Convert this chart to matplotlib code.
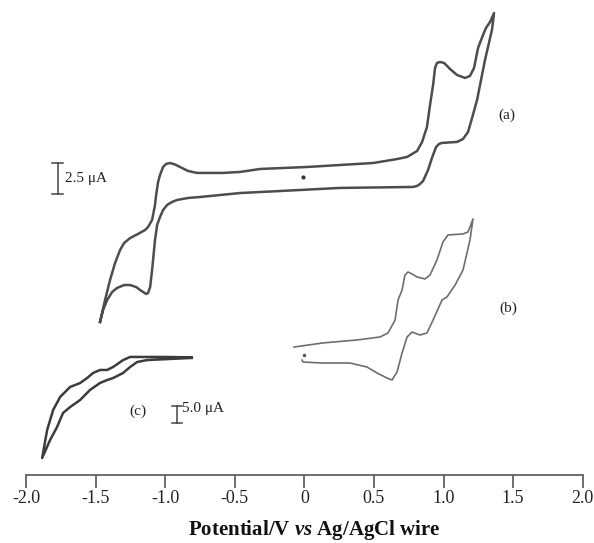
import matplotlib
matplotlib.use("Agg")
import matplotlib.pyplot as plt

plt.rcParams['font.family'] = ['Liberation Serif', 'DejaVu Serif']
plt.rcParams['mathtext.fontset'] = 'custom'
plt.rcParams['mathtext.it'] = 'Liberation Serif:italic:bold'
plt.rcParams['mathtext.rm'] = 'Liberation Serif:bold'

# curve (a): potential (V) and current (uA, offset), closed loop from the left tip
a_v = [-1.468, -1.446, -1.417, -1.381, -1.346, -1.295, -1.252, -1.209, -1.180, -1.137,
       -1.123, -1.108, -1.094, -1.073, -1.058, -1.037, -1.015, -0.986, -0.950, -0.915,
       -0.836, -0.749, -0.462, -0.318, 0.256, 0.781, 0.810, 0.831, 0.853, 0.889,
       0.917, 0.946, 0.968, 0.989, 1.097, 1.140, 1.176, 1.205, 1.241, 1.298,
       1.348, 1.363,
       1.334, 1.305, 1.284, 1.248, 1.219, 1.190, 1.154, 1.097, 1.047, 1.004,
       0.975, 0.953, 0.939, 0.925, 0.903, 0.881, 0.846, 0.810, 0.738, 0.666,
       0.494, 0.256, 0.019, -0.318, -0.462, -0.584, -0.771, -0.836, -0.893, -0.929,
       -0.965, -0.994, -1.015, -1.037, -1.051, -1.065, -1.073, -1.094, -1.123, -1.144,
       -1.195, -1.252, -1.295, -1.324, -1.360, -1.396, -1.432, -1.468]
a_i = [12.34, 13.31, 14.11, 14.76, 15.08, 15.32, 15.32, 15.16, 14.92, 14.60,
       14.68, 15.16, 16.53, 18.95, 20.16, 20.81, 21.37, 21.78, 22.02, 22.18,
       22.34, 22.42, 22.74, 22.82, 23.15, 23.23, 23.31, 23.47, 23.71, 24.60,
       25.57, 26.45, 26.70, 26.78, 26.86, 27.10, 27.66, 28.79, 30.24, 33.47,
       35.89, 37.26,
       36.53, 36.05, 35.49, 34.44, 32.82, 32.18, 32.02, 32.26, 32.74, 33.23,
       33.31, 33.23, 32.82, 31.45, 29.84, 28.07, 26.86, 26.13, 25.65, 25.48,
       25.16, 25.00, 24.84, 24.68, 24.44, 24.36, 24.36, 24.52, 24.84, 25.04,
       25.16, 25.08, 24.84, 24.20, 23.63, 22.58, 21.78, 20.57, 20.00, 19.76,
       19.44, 19.11, 18.71, 18.15, 17.10, 15.73, 14.11, 12.34]

# curve (b)
b_v = [-0.074, 0.134, 0.379, 0.544, 0.601, 0.652, 0.673, 0.702, 0.723, 0.745,
       0.774, 0.810, 0.867, 0.903, 0.953, 0.996, 1.032, 1.140, 1.176, 1.212,
       1.190, 1.140, 1.083, 1.025, 0.989, 0.925, 0.881, 0.831, 0.774, 0.738,
       0.702, 0.666, 0.630, 0.594, 0.522, 0.450, 0.328, 0.134, -0.009, -0.017]
b_i = [10.32, 10.65, 10.89, 11.13, 11.45, 12.50, 14.11, 14.92, 16.13, 16.37,
       16.21, 15.97, 15.81, 16.13, 17.34, 18.79, 19.36, 19.44, 19.60, 20.65,
       18.95, 16.53, 15.32, 14.36, 14.11, 12.50, 11.45, 11.29, 11.53, 11.13,
       9.84, 8.31, 7.66, 7.82, 8.23, 8.71, 9.03, 9.03, 9.11, 9.27]

# curve (c)
c_v = [-0.809, -1.015, -1.180, -1.252, -1.302, -1.374, -1.417, -1.468, -1.518, -1.561,
       -1.611, -1.683, -1.755, -1.805, -1.848, -1.884,
       -1.827, -1.777, -1.734, -1.683, -1.611, -1.540, -1.468, -1.417, -1.374, -1.302,
       -1.252, -1.202, -1.130, -0.809]
c_i = [9.49, 9.52, 9.52, 9.52, 9.27, 8.71, 8.47, 8.47, 8.23, 7.82,
       7.42, 7.10, 6.29, 5.24, 3.63, 1.37,
       2.82, 3.87, 5.00, 5.48, 6.05, 6.86, 7.42, 7.66, 7.82, 8.23,
       8.71, 9.11, 9.27, 9.44]

ticks = [-2.0, -1.5, -1.0, -0.5, 0, 0.5, 1.0, 1.5, 2.0]
tick_labels = ['-2.0', '-1.5', '-1.0', '-0.5', '0', '0.5', '1.0', '1.5', '2.0']

fig = plt.figure(figsize=(5.94, 5.43), dpi=100)
ax = fig.add_axes([26 / 594, 68 / 543, 556.7 / 594, 475 / 543])

ax.plot(a_v, a_i, color='#4d4d4d', lw=1.8, solid_joinstyle='round')
ax.plot(b_v, b_i, color='#6e6e6e', lw=1.2, solid_joinstyle='round')
ax.plot(c_v, c_i, color='#3c3c3c', lw=1.8, solid_joinstyle='round')

# stray dots at the start potential
ax.plot([-0.009], [24.03], 'o', ms=2, color='#333333')
ax.plot([-0.002], [9.68], 'o', ms=1.5, color='#555555')

# scale bars
ax.plot([-1.772, -1.772], [22.64, 25.14], color='#444444', lw=1.1)
ax.plot([-1.812, -1.732], [22.64, 22.64], color='#444444', lw=1.1)
ax.plot([-1.812, -1.732], [25.14, 25.14], color='#444444', lw=1.1)
ax.text(-1.722, 23.9, '2.5 μA', fontsize=11, va='center', ha='left', color='#222222')

ax.plot([-0.917, -0.917], [4.17, 5.59], color='#444444', lw=1.1)
ax.plot([-0.953, -0.881], [4.17, 4.17], color='#444444', lw=1.1)
ax.plot([-0.953, -0.881], [5.59, 5.59], color='#444444', lw=1.1)
ax.text(-0.876, 5.38, '5.0 μA', fontsize=11, va='center', ha='left', color='#222222')

ax.text(1.456, 29.03, '(a)', fontsize=11, ha='center', va='center', color='#222222')
ax.text(1.466, 13.44, '(b)', fontsize=11, ha='center', va='center', color='#222222')
ax.text(-1.193, 5.11, '(c)', fontsize=11, ha='center', va='center', color='#222222')

ax.set_xlim(-2.0, 2.0)
ax.set_ylim(0, 475 / 12.4)
for s in ['left', 'right', 'top']:
    ax.spines[s].set_visible(False)
ax.spines['bottom'].set_color('#555555')
ax.spines['bottom'].set_linewidth(1.2)
ax.set_yticks([])
ax.set_xticks(ticks)
ax.set_xticklabels(tick_labels, fontsize=13, color='#222222')
ax.tick_params(axis='x', direction='out', length=9, width=1.2, color='#555555', pad=2)

fig.text(314 / 594, 8 / 543, r'Potential/V $\mathit{vs}$ Ag/AgCl wire', fontsize=15,
         fontweight='bold', ha='center', va='baseline', color='#111111')

fig.savefig('out.png', dpi=100)
